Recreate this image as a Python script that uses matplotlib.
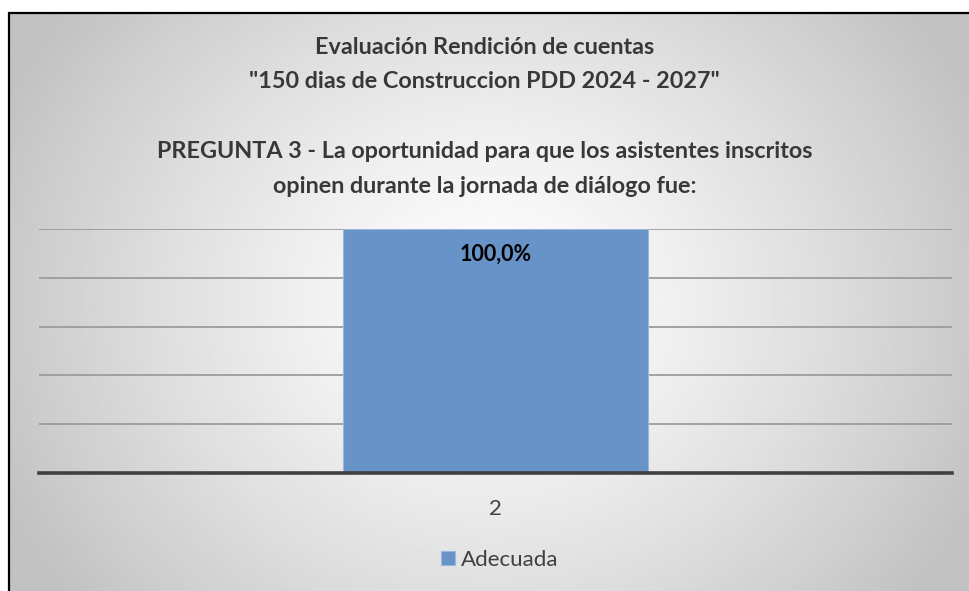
import numpy as np
import matplotlib
matplotlib.use("Agg")
import matplotlib.pyplot as plt
from matplotlib.patches import Rectangle

# data
categories = ["2"]
series_name = "Adecuada"
values = [1.0]
labels = ["100,0%"]
title_lines = [
    "Evaluación Rendición de cuentas",
    "\"150 dias de Construccion PDD 2024 - 2027\"",
    "PREGUNTA 3 - La oportunidad para que los asistentes inscritos",
    "opinen durante la jornada de diálogo fue:",
]
title_y = [47, 82, 151, 186]  # pixel rows of the title lines

plt.rcParams["font.family"] = ["Lato", "DejaVu Sans"]

W, H = 969, 591
fig = plt.figure(figsize=(W / 100, H / 100), dpi=100)
fig.patch.set_facecolor("white")

# radial gradient background inside the frame
bg = fig.add_axes([8 / W, 0, 1 - 8 / W, 1 - 12 / H])
bg.set_axis_off()
yy, xx = np.mgrid[0:300, 0:500]
cx, cy = 250, 150
r = np.sqrt(((xx - cx) / 260.0) ** 2 + ((yy - cy) / 230.0) ** 2)
shade = np.clip(1.0 - 0.22 * r ** 1.3, 0.76, 1.0)
bg.imshow(shade, cmap="gray", vmin=0, vmax=1, aspect="auto",
          extent=[0, 1, 0, 1], interpolation="bilinear")
bg.set_xlim(0, 1)
bg.set_ylim(0, 1)

# frame border
fig.add_artist(Rectangle((8.5 / W, -0.01), 1.0, 1 - 12.5 / H + 0.01,
                         transform=fig.transFigure, fill=False,
                         edgecolor="black", linewidth=1.6))

# titles
for line, y in zip(title_lines, title_y):
    fig.text(0.5, 1 - y / H, line, ha="center", va="center",
             fontsize=16.8, fontweight="bold", color="#383838")

# main axes
ax = fig.add_axes([39 / W, (H - 473) / H, (952 - 39) / W, (473 - 229) / H])
ax.set_facecolor("none")
x = np.arange(len(categories))
bars = ax.bar(x, values, width=1.0, color="#6893c8", edgecolor="#9ab8dd",
              linewidth=0.8, label=series_name, zorder=2)
ax.set_xlim(-1.5, 1.5)
ax.set_ylim(0, 1.0)
ax.set_yticks(np.arange(0.2, 1.01, 0.2))
ax.yaxis.grid(True, color="#9a9a9a", linewidth=1.4, alpha=0.9, zorder=1)
ax.set_axisbelow(True)
for s in ["left", "right", "top"]:
    ax.spines[s].set_visible(False)
ax.spines["bottom"].set_color("#404040")
ax.spines["bottom"].set_linewidth(2.6)
ax.spines["bottom"].set_zorder(3)
ax.tick_params(axis="y", left=False, labelleft=False)
ax.tick_params(axis="x", bottom=False, pad=15)
ax.set_xticks(x)
ax.set_xticklabels(categories, fontsize=16, color="#404040")

for b, lab in zip(bars, labels):
    ax.annotate(lab, (b.get_x() + b.get_width() / 2, b.get_height()),
                xytext=(0, -18.5), textcoords="offset points", ha="center",
                va="center", fontsize=15.5, fontweight="bold", color="black")

leg = fig.legend(loc="center", bbox_to_anchor=(0.516, 31 / H), frameon=False,
                 fontsize=16, handlelength=0.6, handleheight=0.6,
                 handletextpad=0.3)
for t in leg.get_texts():
    t.set_color("#404040")

fig.savefig("out.png", dpi=100)
